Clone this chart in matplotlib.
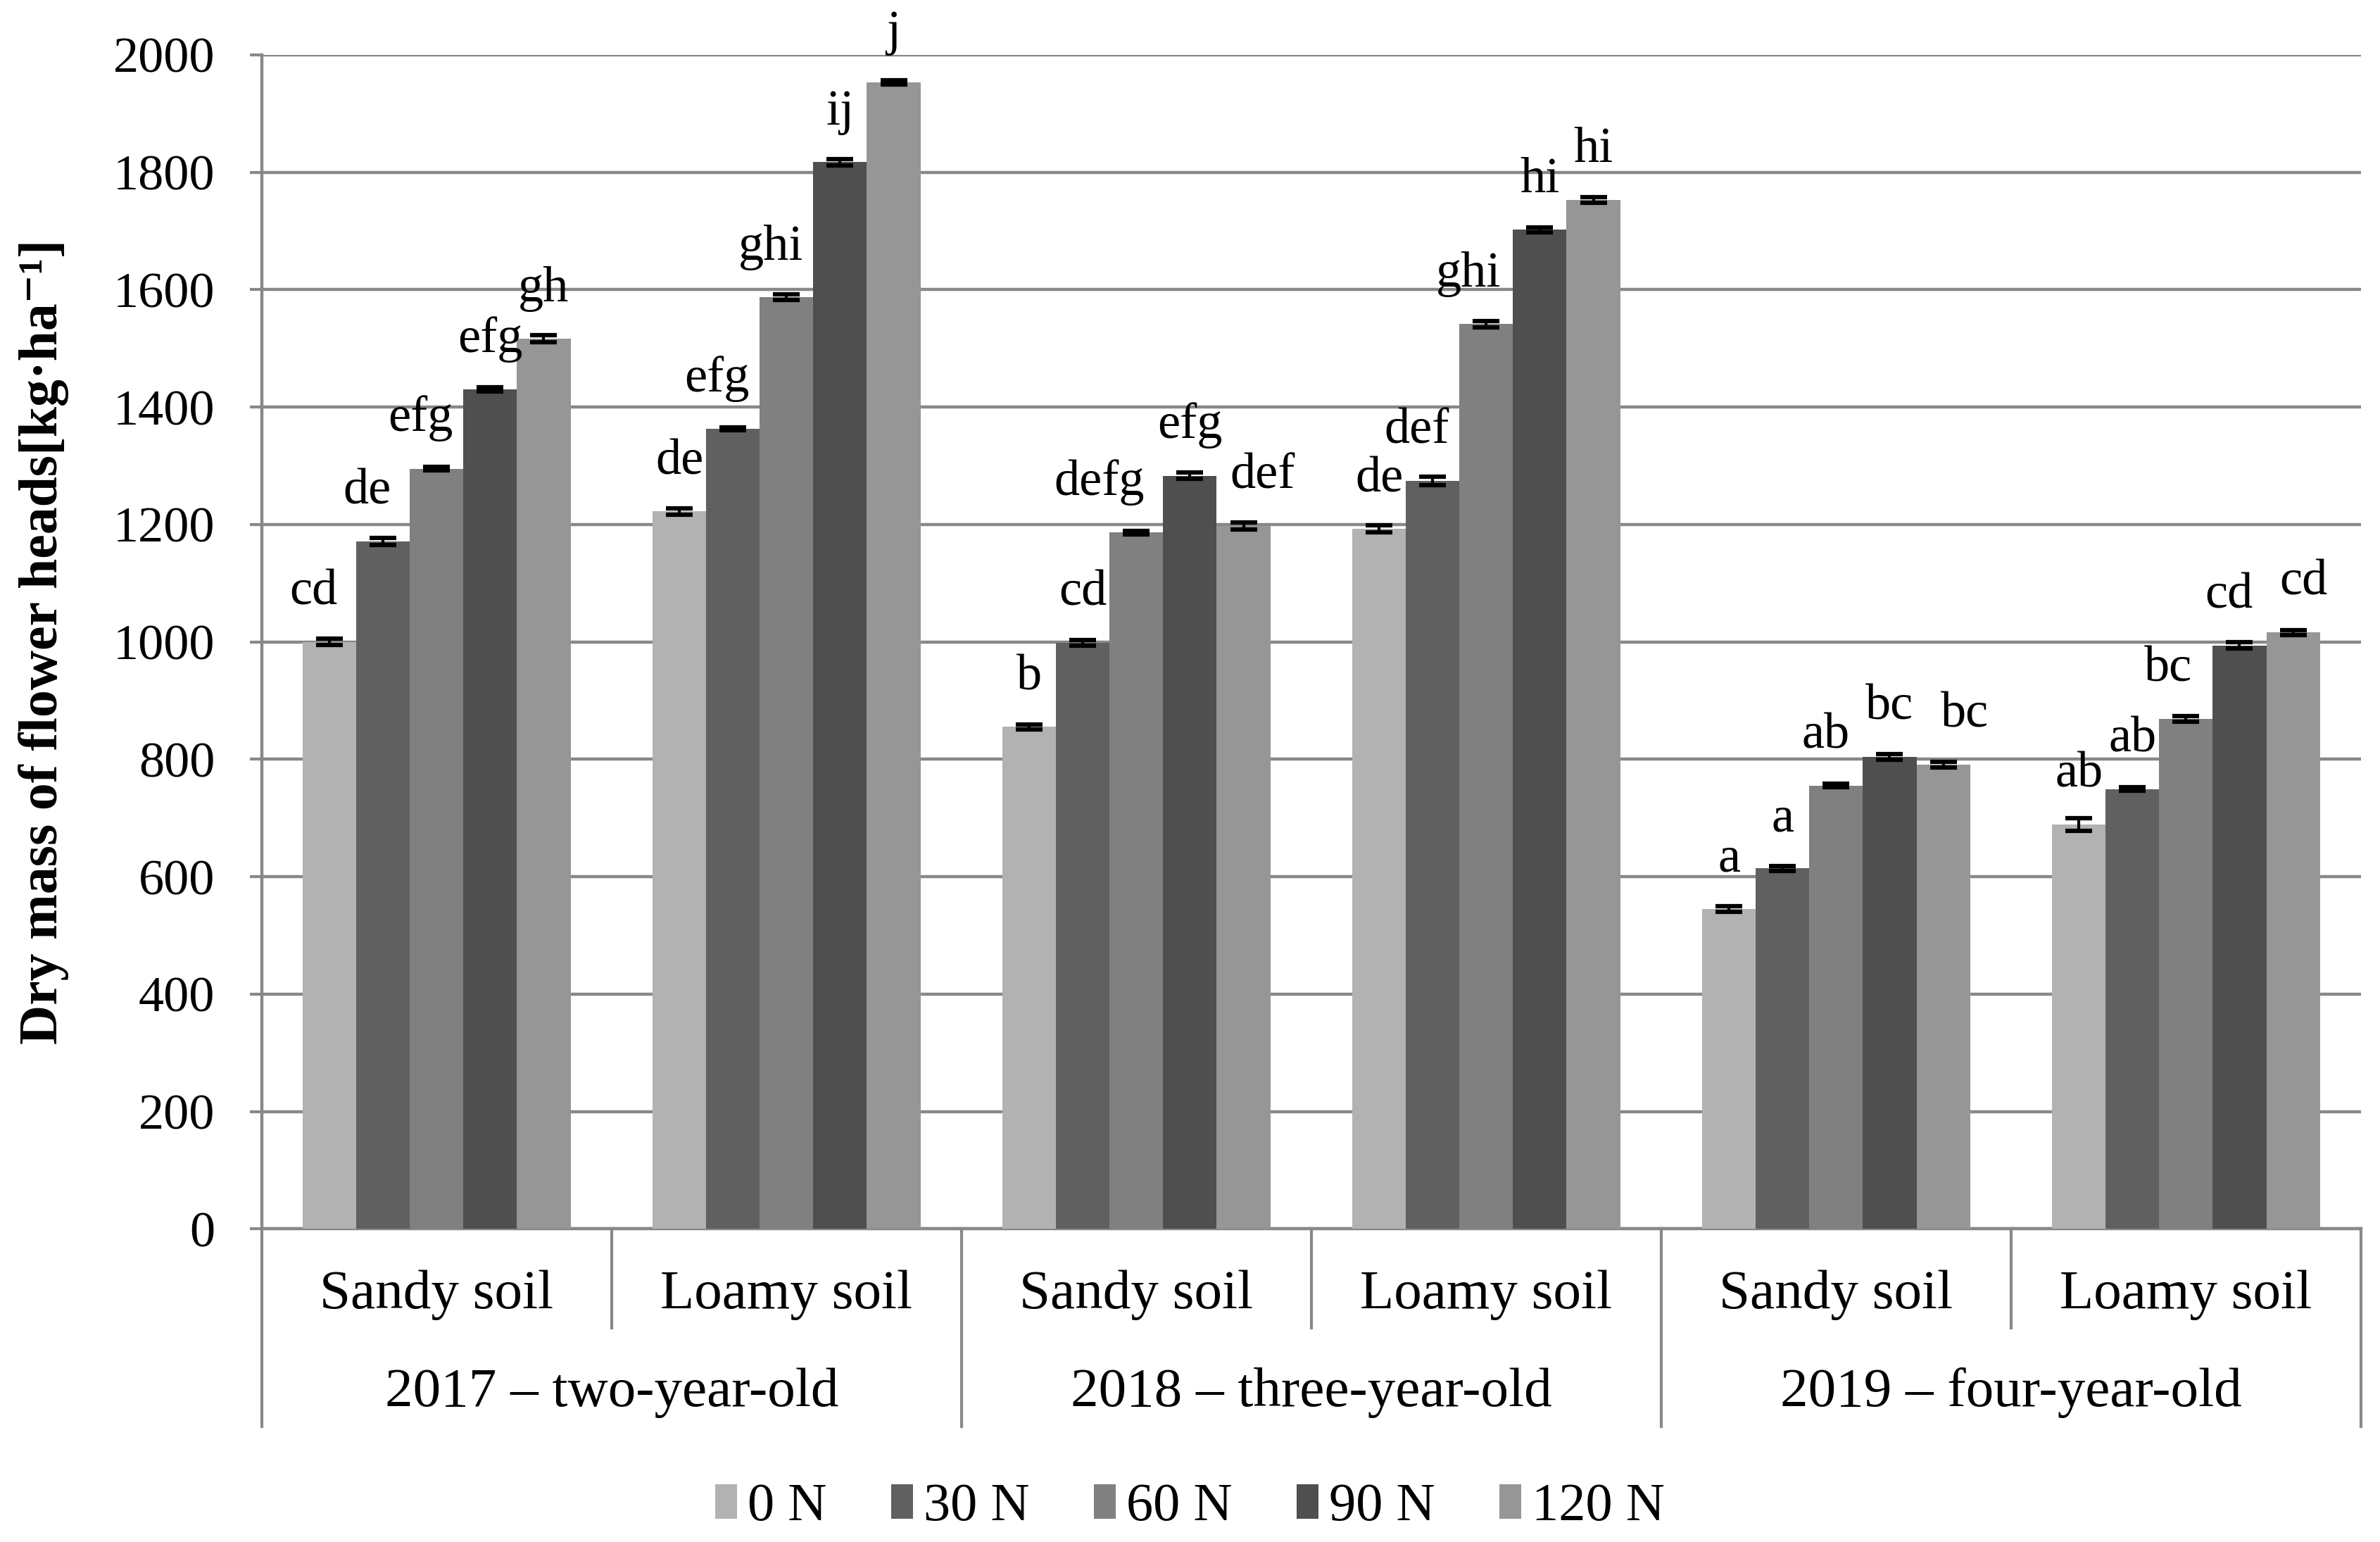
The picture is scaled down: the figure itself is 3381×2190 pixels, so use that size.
import numpy as np
import matplotlib.pyplot as plt
from matplotlib.patches import Patch
from matplotlib.transforms import blended_transform_factory

plt.rcParams['font.family'] = ['Liberation Serif', 'DejaVu Serif']

# data
years = ["2017 – two-year-old", "2018 – three-year-old", "2019 – four-year-old"]
soils = ["Sandy soil", "Loamy soil"]
doses = ["0 N", "30 N", "60 N", "90 N", "120 N"]

# rows: 2017 sandy, 2017 loamy, 2018 sandy, 2018 loamy, 2019 sandy, 2019 loamy
n0 = [1000, 1222, 855, 1192, 545, 689]
n30 = [1171, 1363, 998, 1274, 614, 749]
n60 = [1295, 1587, 1186, 1541, 755, 869]
n90 = [1430, 1817, 1283, 1702, 804, 994]
n120 = [1516, 1953, 1197, 1753, 791, 1016]

e0 = [5, 5, 4, 6, 5, 11]
e30 = [6, 2, 5, 7, 4, 3]
e60 = [3, 5, 3, 5, 3, 5]
e90 = [4, 5, 5, 4, 5, 5]
e120 = [6, 4, 6, 5, 5, 4]

l0 = ["cd", "de", "b", "de", "a", "ab"]
l30 = ["de", "efg", "cd", "def", "a", "ab"]
l60 = ["efg", "ghi", "defg", "ghi", "ab", "bc"]
l90 = ["efg", "ij", "efg", "hi", "bc", "cd"]
l120 = ["gh", "j", "def", "hi", "bc", "cd"]

colors = ["#b2b2b2", "#606060", "#808080", "#4f4f4f", "#969696"]

values = [n0, n30, n60, n90, n120]
errors = [e0, e30, e60, e90, e120]
letters = [l0, l30, l60, l90, l120]

# sideways nudges of some letter labels (in bar widths), as in the original
nudge = {(0, 0): -0.3, (1, 0): -0.3, (2, 0): -0.3,
         (1, 1): -0.3, (2, 1): -0.3,
         (2, 2): -0.7, (4, 2): 0.35,
         (1, 3): -0.3, (2, 3): -0.33,
         (2, 4): -0.2, (4, 4): 0.4,
         (2, 5): -0.33, (3, 5): -0.2, (4, 5): 0.2}

fig = plt.figure(figsize=(33.81, 21.9), dpi=100)
ax = fig.add_axes([0.110, 0.203, 0.882, 0.7615])

fs = 52
grid_c = "#888888"
x = np.arange(len(n0))
w = 0.153

for i in range(5):
    pos = x + (i - 2) * w
    ax.bar(pos, values[i], width=w, color=colors[i], zorder=3)
    ax.errorbar(pos, values[i], yerr=errors[i], fmt="none", ecolor="black",
                elinewidth=3, capsize=14, capthick=4.5, zorder=4)
    for k, (xp, v, t) in enumerate(zip(pos, values[i], letters[i])):
        dx = nudge.get((i, k), 0) * w
        ax.text(xp + dx, v + 64, t, ha="center", va="baseline", fontsize=fs,
                clip_on=False, zorder=5)

ax.set_ylim(0, 2000)
ax.set_xlim(-0.5, len(n0) - 0.5)
ax.set_yticks(np.arange(0, 2001, 200))
ax.yaxis.grid(True, color=grid_c, linewidth=3.2, zorder=0)
ax.set_axisbelow(True)
ax.tick_params(axis="y", labelsize=fs, length=12, width=3, color=grid_c, pad=36)
ax.set_xticks([])
for s in ["top", "right"]:
    ax.spines[s].set_visible(False)
for s in ["left", "bottom"]:
    ax.spines[s].set_color(grid_c)
    ax.spines[s].set_linewidth(3.2)

ax.set_ylabel("Dry mass of flower heads[kg·ha⁻¹]", fontsize=fs + 4,
              fontweight="bold")
ax.yaxis.set_label_coords(-0.092, 0.5)

# two-level category axis
tr = blended_transform_factory(ax.transData, ax.transAxes)
for k in range(len(n0)):
    ax.text(k, -0.056, soils[k % 2], transform=tr, ha="center", va="center",
            fontsize=fs + 5)
for k in range(len(n0) + 1):
    xs = k - 0.5
    y_end = -0.1685 if k % 2 == 0 else -0.0845
    ax.plot([xs, xs], [0, y_end], transform=tr, color=grid_c, linewidth=3,
            clip_on=False)
for g, name in enumerate(years):
    ax.text(2 * g + 0.5, -0.1397, name, transform=tr, ha="center",
            va="center", fontsize=fs + 5)

handles = [Patch(facecolor=c, edgecolor="none") for c in colors]
fig.legend(handles, doses, loc="center", bbox_to_anchor=(0.5, 0.0224),
           ncol=5, frameon=False, fontsize=fs + 3, handlelength=0.4,
           handleheight=0.6, handletextpad=0.2, columnspacing=1.2)

fig.savefig("out.png", dpi=100)
